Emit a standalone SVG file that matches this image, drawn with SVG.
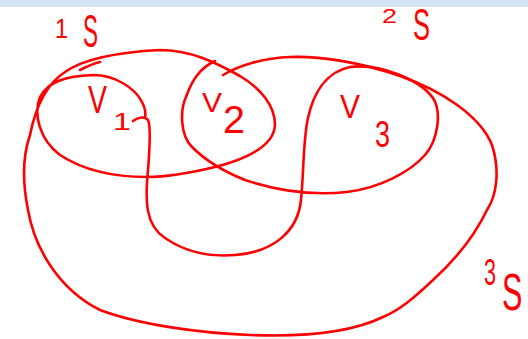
<svg xmlns="http://www.w3.org/2000/svg" width="528" height="339" viewBox="0 0 528 339">
<style>
.s{fill:none;stroke:#ff0000;stroke-width:2.6;stroke-linecap:round;stroke-linejoin:round}
.t{fill:#ff0000;font-family:"Liberation Sans",Arial,sans-serif}
</style>
<rect x="0" y="0" width="528" height="339" fill="#ffffff"/>
<rect x="0" y="0" width="528" height="7" fill="#d5e5f4"/>
<g id="strokes">
<path class="s" d="M223,75 C238,66 262,58 290,57 C320,56 360,62 400,76 C440,90 480,115 492,145 C500,170 497,195 487,210 C475,235 455,260 433,280 C415,297 400,310 383,317 C350,333 300,337 250,335 C200,333 140,325 100,310 C60,290 35,250 28,210 C22,180 23,155 30,135 C35,110 45,85 65,72 C85,58 120,52 160,50 C190,50 215,62 240,76 C260,88 275,105 275,125 C274,145 250,158 215,167 C190,173 165,177 147,177 C110,177 80,168 60,155 C40,140 33,115 40,97 C48,82 65,76 93,75 C115,75 135,88 142,102 C145,108 146,113 145,117"/>
<path class="s" d="M133,121 C138,117 145,116 148,120 C151,126 150,145 148,170 C145,200 145,225 165,238 C185,252 210,257 235,255 C275,252 298,230 301,200 C304,170 303,140 308,118 C313,95 325,72 350,67 C380,63 420,80 433,98 C442,112 438,140 425,155 C410,172 380,188 347,192 C310,196 275,190 245,180 C225,172 205,160 192,147 C180,135 180,110 186,97 C192,80 200,68 215,61"/>
<path class="s" d="M80,70 C88,66 95,63 100,62"/>
</g>
<g id="labels">
<text class="t" x="55" y="38" font-size="28" textLength="13" lengthAdjust="spacingAndGlyphs">1</text>
<text class="t" x="83" y="47" font-size="46" textLength="15" lengthAdjust="spacingAndGlyphs">S</text>
<text class="t" x="382" y="23" font-size="21" textLength="15" lengthAdjust="spacingAndGlyphs">2</text>
<text class="t" x="413" y="40" font-size="44" textLength="17" lengthAdjust="spacingAndGlyphs">S</text>
<text class="t" x="484" y="285" font-size="36" textLength="12" lengthAdjust="spacingAndGlyphs">3</text>
<text class="t" transform="translate(502,310) scale(0.85,1.45)" x="0" y="0" font-size="36">S</text>
</g>
<g id="v1">
<text class="t" x="88" y="113" font-size="38" textLength="19" lengthAdjust="spacingAndGlyphs">V</text>
<text class="t" x="113" y="130" font-size="24" textLength="18" lengthAdjust="spacingAndGlyphs">1</text>
</g>
<g id="v2">
<text class="t" x="202" y="112" font-size="28" textLength="20" lengthAdjust="spacingAndGlyphs">V</text>
<text class="t" x="223" y="133" font-size="38" textLength="22" lengthAdjust="spacingAndGlyphs">2</text>
</g>
<g id="v3">
<text class="t" x="340" y="118" font-size="34" textLength="20" lengthAdjust="spacingAndGlyphs">V</text>
<text class="t" x="375" y="147" font-size="37" textLength="15" lengthAdjust="spacingAndGlyphs">3</text>
</g>
</svg>
